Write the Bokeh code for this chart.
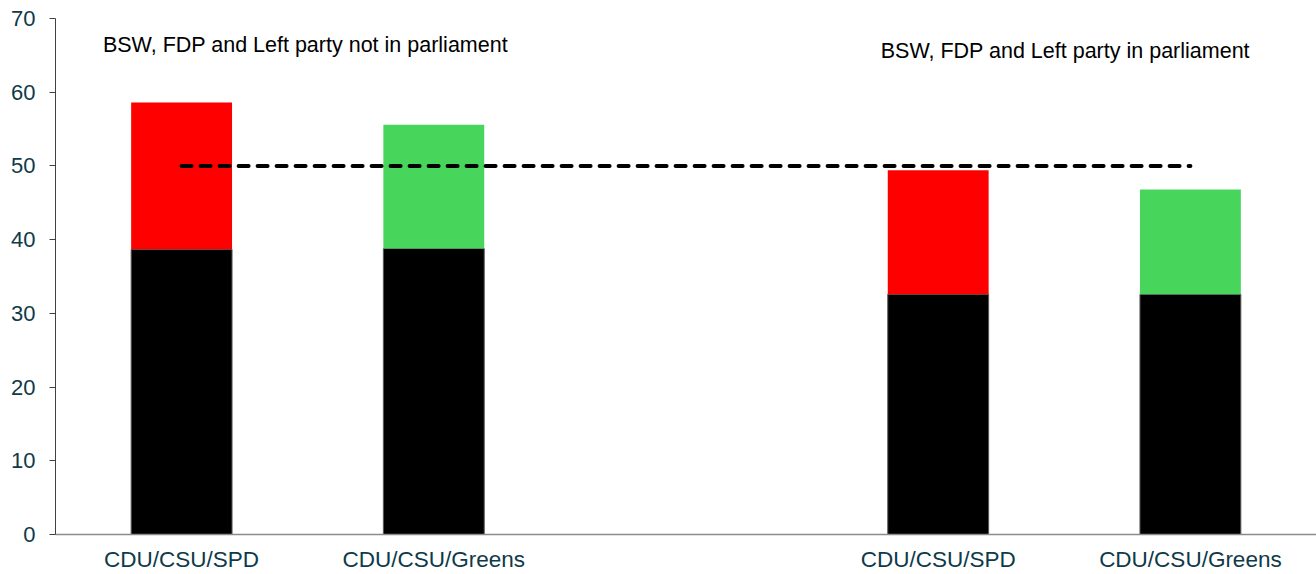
from bokeh.plotting import figure
from bokeh.models import FixedTicker, Label, Range1d, ColumnDataSource
from bokeh.embed import file_html
from bokeh.resources import INLINE

# ---- data ----
categories = ["CDU/CSU/SPD", "CDU/CSU/Greens", "CDU/CSU/SPD", "CDU/CSU/Greens"]
positions = [1, 2, 4, 5]
cdu_csu = [38.7, 38.8, 32.6, 32.6]
partner = [19.9, 16.8, 16.8, 14.2]
partner_colors = ["#FF0000", "#47D55C", "#FF0000", "#47D55C"]
majority = 50
annotations = ["BSW, FDP and Left party not in parliament",
               "BSW, FDP and Left party in parliament"]
annot_x = [0.688, 3.772]
annot_y = [66.45, 65.65]
y_ticks = [0, 10, 20, 30, 40, 50, 60, 70]

FONT = "Liberation Sans"
LABEL_COLOR = "#0e3a49"

p = figure(width=1316, height=574, output_backend="svg", toolbar_location=None,
           x_range=Range1d(0.5, 5.5), y_range=Range1d(0, 70),
           min_border_left=55, min_border_right=0, min_border_top=18, min_border_bottom=40)
p.outline_line_color = None
p.xgrid.visible = False
p.ygrid.visible = False

tops = [c + q for c, q in zip(cdu_csu, partner)]
src = ColumnDataSource(dict(x=positions, cdu=cdu_csu, top=tops, col=partner_colors))

p.vbar(x="x", width=0.4, bottom=0, top="cdu", source=src,
       fill_color="black", line_color="#595959", line_width=1)
p.vbar(x="x", width=0.4, bottom="cdu", top="top", source=src,
       fill_color="col", line_color=None)

p.line(x=[positions[0], positions[-1]], y=[majority, majority],
       line_color="black", line_width=4, line_dash="10 9", line_cap="round")

for t, ax, ay in zip(annotations, annot_x, annot_y):
    p.add_layout(Label(x=ax, y=ay, text=t, text_font=FONT, text_font_size="21.5px",
                       text_color="black", text_baseline="alphabetic", text_align="left"))

# y axis
p.yaxis.ticker = FixedTicker(ticks=y_ticks)
p.yaxis.minor_tick_line_color = None
p.yaxis.major_tick_in = 0
p.yaxis.major_tick_out = 6
p.yaxis.major_label_standoff = 14
p.yaxis.axis_line_color = "#404040"
p.yaxis.major_tick_line_color = "#404040"
p.yaxis.major_label_text_font = FONT
p.yaxis.major_label_text_font_size = "22px"
p.yaxis.major_label_text_color = LABEL_COLOR

# x axis
p.xaxis.ticker = FixedTicker(ticks=positions)
p.xaxis.major_label_overrides = {pos: cat for pos, cat in zip(positions, categories)}
p.xaxis.minor_tick_line_color = None
p.xaxis.major_tick_line_color = None
p.xaxis.major_tick_in = 0
p.xaxis.major_tick_out = 0
p.xaxis.major_label_standoff = 12
p.xaxis.axis_line_color = "#8c8c8c"
p.xaxis.axis_line_width = 1.5
p.xaxis.major_label_text_font = FONT
p.xaxis.major_label_text_font_size = "22.5px"
p.xaxis.major_label_text_color = LABEL_COLOR

open("out.html", "w").write(file_html(p, INLINE))
